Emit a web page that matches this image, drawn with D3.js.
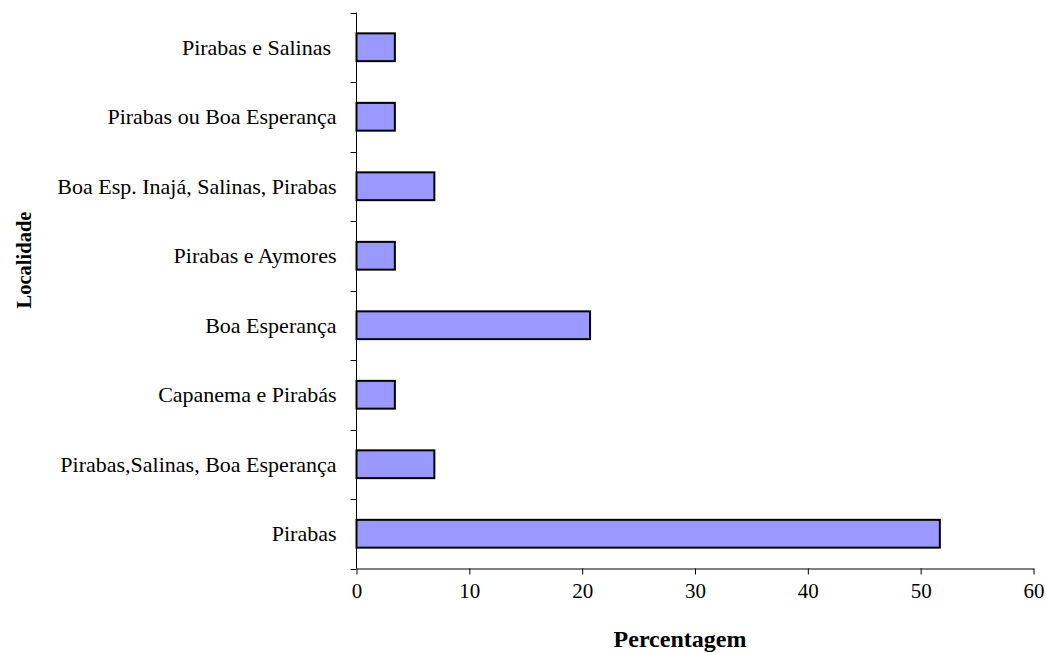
<!DOCTYPE html>
<html>
<head>
<meta charset="utf-8">
<script src="https://cdn.jsdelivr.net/npm/d3@7"></script>
<style>
  html, body { margin: 0; padding: 0; background: #fff; }
  svg text { font-family: "Liberation Serif", "Times New Roman", serif; fill: #000; }
</style>
</head>
<body>
<svg id="chart" width="1046" height="653"></svg>
<script>
// Localities, listed from bottom to top of the chart
const categories = [
  "Pirabas",
  "Pirabas,Salinas, Boa Esperança",
  "Capanema e Pirabás",
  "Boa Esperança",
  "Pirabas e Aymores",
  "Boa Esp. Inajá, Salinas, Pirabas",
  "Pirabas ou Boa Esperança",
  "Pirabas e Salinas "
];
// Percentage of records per locality
const values = [51.7, 6.9, 3.4, 20.7, 3.4, 6.9, 3.4, 3.4];
const xTicks = [0, 10, 20, 30, 40, 50, 60];
const xTitle = "Percentagem";
const yTitle = "Localidade";

const svg = d3.select("#chart");
const m = { left: 356.5, right: 1033.5, top: 12.5, bottom: 568.5 };

const x = d3.scaleLinear().domain([0, 60]).range([m.left, m.right]);
const y = d3.scaleBand()
  .domain(categories.slice().reverse())
  .range([m.top, m.bottom])
  .paddingInner(0.6)
  .paddingOuter(0.3);

// Bars
svg.append("g").selectAll("rect")
  .data(categories.map((c, i) => ({ c, v: values[i] })))
  .join("rect")
  .attr("x", x(0))
  .attr("y", d => y(d.c))
  .attr("width", d => x(d.v) - x(0))
  .attr("height", y.bandwidth())
  .attr("fill", "#9999ff")
  .attr("stroke", "#000")
  .attr("stroke-width", 2);

// X axis
const xAxis = svg.append("g")
  .attr("transform", `translate(0,${m.bottom})`)
  .call(d3.axisBottom(x).tickValues(xTicks).tickSize(6).tickPadding(9).tickSizeOuter(0));
xAxis.select(".domain").attr("stroke", "#000");
xAxis.selectAll(".tick line").attr("stroke", "#000");
xAxis.selectAll("text").attr("font-size", 21).attr("font-family", "Liberation Serif");

// Y axis: ticks sit on band boundaries, labels at band centres
const boundaries = d3.range(categories.length + 1).map(i => m.top + i * (m.bottom - m.top) / categories.length);
const yAxis = svg.append("g");
yAxis.append("line")
  .attr("x1", m.left).attr("x2", m.left)
  .attr("y1", m.top).attr("y2", m.bottom)
  .attr("stroke", "#000");
yAxis.selectAll("line.tick")
  .data(boundaries)
  .join("line")
  .attr("class", "tick")
  .attr("x1", m.left - 6).attr("x2", m.left)
  .attr("y1", d => Math.round(d) + 0.5).attr("y2", d => Math.round(d) + 0.5)
  .attr("stroke", "#000");
yAxis.selectAll("text")
  .data(categories)
  .join("text")
  .attr("x", m.left - 20)
  .attr("y", d => y(d) + y.bandwidth() / 2)
  .attr("dy", "0.35em")
  .attr("text-anchor", "end")
  .attr("font-size", 22)
  .style("white-space", "pre")
  .text(d => d);

// Axis titles
svg.append("text")
  .attr("x", 680)
  .attr("y", 647)
  .attr("text-anchor", "middle")
  .attr("font-size", 24)
  .attr("font-weight", "bold")
  .text(xTitle);

svg.append("text")
  .attr("transform", "translate(31,260) rotate(-90)")
  .attr("text-anchor", "middle")
  .attr("font-size", 20.5)
  .attr("font-weight", "bold")
  .text(yTitle);
</script>
</body>
</html>
